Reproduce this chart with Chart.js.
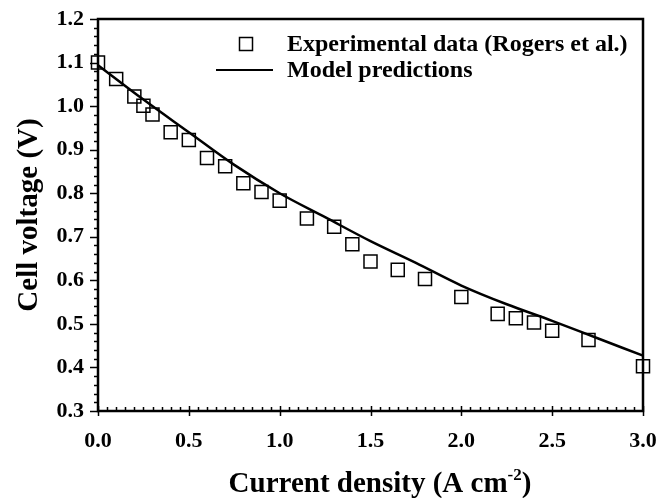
<!DOCTYPE html>
<html>
<head>
<meta charset="utf-8">
<script src="https://cdn.jsdelivr.net/npm/chart.js@4"></script>
<style>
  html, body { margin: 0; padding: 0; background: #fff; }
  #wrap { width: 661px; height: 498px; }
</style>
</head>
<body>
<div id="wrap"><canvas id="grafico"></canvas></div>
<script>
// experimental points (Rogers et al.)
const expCorrente = [0.0, 0.1, 0.2, 0.25, 0.3, 0.4, 0.5, 0.6, 0.7, 0.8, 0.9, 1.0, 1.15, 1.3, 1.4, 1.5, 1.65, 1.8, 2.0, 2.2, 2.3, 2.4, 2.5, 2.7, 3.0];
const expTensao = [1.10, 1.062, 1.022, 1.001, 0.981, 0.940, 0.922, 0.881, 0.862, 0.823, 0.803, 0.783, 0.742, 0.723, 0.683, 0.643, 0.624, 0.603, 0.562, 0.523, 0.513, 0.503, 0.484, 0.463, 0.403];

// model curve
const modCorrente = [0.0, 0.25, 0.5, 0.75, 1.0, 1.25, 1.5, 1.75, 2.0, 2.25, 2.5, 2.75, 3.0];
const modTensao = [1.094, 1.015, 0.94, 0.865, 0.80, 0.745, 0.69, 0.64, 0.588, 0.545, 0.507, 0.467, 0.427];

const legendaTextos = ['Experimental data (Rogers et al.)', 'Model predictions'];
const tituloX = 'Current density (A cm';
const tituloY = 'Cell voltage (V)';

const fonte = '"Liberation Serif", "Times New Roman", serif';

const pontosExp = expCorrente.map((x, i) => ({ x: x, y: expTensao[i] }));
const pontosMod = modCorrente.map((x, i) => ({ x: x, y: modTensao[i] }));

const desenhos = {
    id: 'desenhos',
    afterDraw(chart) {
        const ctx = chart.ctx;
        const area = chart.chartArea;
        const sx = chart.scales.x;
        const sy = chart.scales.y;
        ctx.save();
        ctx.strokeStyle = '#000';
        ctx.lineWidth = 1.5;

        // y ticks, pointing out
        for (let v = 30; v <= 120; v += 2) {
            const py = Math.round(sy.getPixelForValue(v / 100)) + 0.5;
            const len = (v % 10 === 0) ? 8 : 4;
            ctx.beginPath();
            ctx.moveTo(area.left - len, py);
            ctx.lineTo(area.left, py);
            ctx.stroke();
        }
        // x ticks, minor inside, major crossing
        for (let v = 0; v <= 300; v += 5) {
            const px = Math.round(sx.getPixelForValue(v / 100)) + 0.5;
            const maior = v % 50 === 0;
            ctx.beginPath();
            ctx.moveTo(px, area.bottom - (maior ? 5 : 4));
            ctx.lineTo(px, area.bottom + (maior ? 5 : 0));
            ctx.stroke();
        }

        // frame
        ctx.lineWidth = 2.5;
        ctx.strokeRect(area.left, area.top, area.right - area.left, area.bottom - area.top);

        // legend
        ctx.lineWidth = 1.5;
        ctx.strokeRect(239.5, 37.5, 13, 13);
        ctx.lineWidth = 2.2;
        ctx.beginPath();
        ctx.moveTo(216, 70);
        ctx.lineTo(273, 70);
        ctx.stroke();
        ctx.fillStyle = '#000';
        ctx.font = 'bold 24px ' + fonte;
        ctx.textBaseline = 'middle';
        ctx.textAlign = 'left';
        ctx.fillText(legendaTextos[0], 287, 45);
        ctx.fillText(legendaTextos[1], 287, 71);

        // x title with superscript
        ctx.font = 'bold 29px ' + fonte;
        const w1 = ctx.measureText(tituloX).width;
        ctx.font = 'bold 17px ' + fonte;
        const w2 = ctx.measureText('-2').width;
        ctx.font = 'bold 29px ' + fonte;
        const w3 = ctx.measureText(')').width;
        let x0 = 380 - (w1 + w2 + w3) / 2;
        ctx.textBaseline = 'alphabetic';
        ctx.fillText(tituloX, x0, 492);
        ctx.font = 'bold 17px ' + fonte;
        ctx.fillText('-2', x0 + w1, 480);
        ctx.font = 'bold 29px ' + fonte;
        ctx.fillText(')', x0 + w1 + w2, 492);

        // y title
        ctx.translate(30, (area.top + area.bottom) / 2);
        ctx.rotate(-Math.PI / 2);
        ctx.textAlign = 'center';
        ctx.textBaseline = 'middle';
        ctx.fillText(tituloY, 0, 0);
        ctx.restore();
    }
};

new Chart(document.getElementById('grafico'), {
    type: 'scatter',
    data: {
        datasets: [{
            label: legendaTextos[0],
            data: pontosExp,
            pointStyle: 'rect',
            pointRadius: 9.2,
            pointBorderWidth: 1.5,
            borderColor: '#000',
            backgroundColor: 'rgba(0,0,0,0)',
            showLine: false
        }, {
            label: legendaTextos[1],
            data: pontosMod,
            showLine: true,
            borderColor: '#000',
            borderWidth: 2.5,
            pointRadius: 0,
            cubicInterpolationMode: 'monotone'
        }]
    },
    plugins: [desenhos],
    options: {
        responsive: true,
        maintainAspectRatio: false,
        animation: false,
        clip: false,
        layout: { padding: { top: 19, right: 18, left: 0, bottom: 0 } },
        plugins: {
            legend: { display: false },
            tooltip: { enabled: false }
        },
        scales: {
            x: {
                type: 'linear',
                min: 0,
                max: 3,
                grid: { display: false, drawTicks: false },
                border: { display: false },
                afterFit(scale) {
                    scale.height = 87;
                    scale.paddingLeft = 0;
                    scale.paddingRight = 0;
                },
                ticks: {
                    stepSize: 0.5,
                    padding: 17,
                    color: '#000',
                    font: { family: fonte, size: 22, weight: 'bold' },
                    callback: v => v.toFixed(1)
                }
            },
            y: {
                min: 0.3,
                max: 1.2,
                grid: { display: false, drawTicks: false },
                border: { display: false },
                afterFit(scale) {
                    scale.width = 98;
                    scale.paddingTop = 0;
                    scale.paddingBottom = 0;
                },
                ticks: {
                    stepSize: 0.1,
                    padding: 14,
                    color: '#000',
                    font: { family: fonte, size: 22, weight: 'bold' },
                    callback: v => v.toFixed(1)
                }
            }
        }
    }
});
</script>
</body>
</html>
